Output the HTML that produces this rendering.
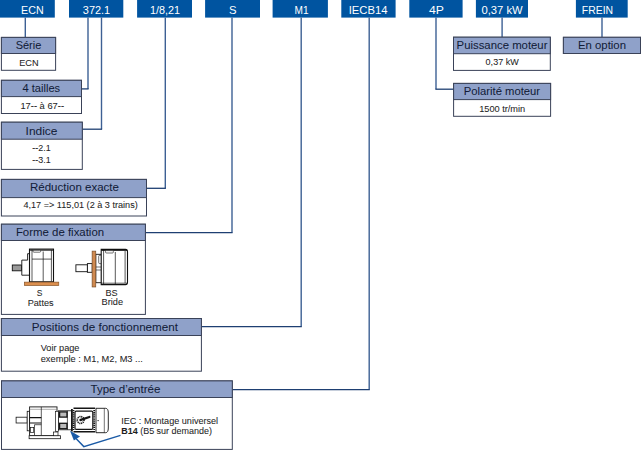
<!DOCTYPE html>
<html><head><meta charset="utf-8"><style>
html,body{margin:0;padding:0;background:#fff;width:641px;height:450px;overflow:hidden}
svg{display:block;font-family:"Liberation Sans",sans-serif}
</style></head><body>
<svg width="641" height="450" viewBox="0 0 641 450">
<rect width="641" height="450" fill="#fff"/>
<rect x="-10" y="0" width="64.80" height="17.6" fill="#0054a0"/>
<rect x="69" y="0" width="54.30" height="17.6" fill="#0054a0"/>
<rect x="137.1" y="0" width="54.90" height="17.6" fill="#0054a0"/>
<rect x="205.1" y="0" width="54.90" height="17.6" fill="#0054a0"/>
<rect x="272.6" y="0" width="55.30" height="17.6" fill="#0054a0"/>
<rect x="341.3" y="0" width="54.30" height="17.6" fill="#0054a0"/>
<rect x="409.3" y="0" width="53.30" height="17.6" fill="#0054a0"/>
<rect x="475.9" y="0" width="52.10" height="17.6" fill="#0054a0"/>
<rect x="575.9" y="0" width="51.80" height="17.6" fill="#0054a0"/>
<path d="M25.3 17.4 V37.4" fill="none" stroke="#3d6094" stroke-width="1.4"/>
<path d="M88.0 17.4 V88.9" fill="none" stroke="#3d6094" stroke-width="1.4"/>
<path d="M88.6 88.9 H81.5" fill="none" stroke="#1e3f72" stroke-width="1.3"/>
<path d="M101.5 17.4 V129.2" fill="none" stroke="#3d6094" stroke-width="1.4"/>
<path d="M102.1 129.2 H82.3" fill="none" stroke="#1e3f72" stroke-width="1.3"/>
<path d="M165.3 17.4 V188.3" fill="none" stroke="#3d6094" stroke-width="1.4"/>
<path d="M165.9 188.3 H146.5" fill="none" stroke="#1e3f72" stroke-width="1.3"/>
<path d="M232.0 17.4 V232.6" fill="none" stroke="#3d6094" stroke-width="1.4"/>
<path d="M232.6 232.6 H145.4" fill="none" stroke="#1e3f72" stroke-width="1.3"/>
<path d="M301.2 17.4 V326.6" fill="none" stroke="#3d6094" stroke-width="1.4"/>
<path d="M301.8 326.6 H201.4" fill="none" stroke="#1e3f72" stroke-width="1.3"/>
<path d="M369.2 17.4 V389.6" fill="none" stroke="#3d6094" stroke-width="1.4"/>
<path d="M369.8 389.6 H232.3" fill="none" stroke="#1e3f72" stroke-width="1.3"/>
<path d="M436.0 17.4 V89.2" fill="none" stroke="#3d6094" stroke-width="1.4"/>
<path d="M435.4 89.2 H453.5" fill="none" stroke="#1e3f72" stroke-width="1.3"/>
<path d="M502.1 17.4 V37.2" fill="none" stroke="#3d6094" stroke-width="1.4"/>
<path d="M602.0 17.4 V37.3" fill="none" stroke="#3d6094" stroke-width="1.4"/>
<rect x="1.4" y="37.4" width="54.20" height="32.90" fill="#fff" stroke="#3a4258" stroke-width="1"/>
<rect x="1.4" y="37.4" width="54.20" height="16.10" fill="#8fa1c9" stroke="#3a4258" stroke-width="1"/>
<rect x="1.4" y="80.3" width="80.10" height="33.20" fill="#fff" stroke="#3a4258" stroke-width="1"/>
<rect x="1.4" y="80.3" width="80.10" height="16.30" fill="#8fa1c9" stroke="#3a4258" stroke-width="1"/>
<rect x="1.4" y="122.2" width="80.90" height="47.20" fill="#fff" stroke="#3a4258" stroke-width="1"/>
<rect x="1.4" y="122.2" width="80.90" height="17.00" fill="#8fa1c9" stroke="#3a4258" stroke-width="1"/>
<rect x="1.4" y="179.4" width="145.10" height="36.60" fill="#fff" stroke="#3a4258" stroke-width="1"/>
<rect x="1.4" y="179.4" width="145.10" height="18.20" fill="#8fa1c9" stroke="#3a4258" stroke-width="1"/>
<rect x="1.4" y="224.2" width="144.00" height="90.20" fill="#fff" stroke="#3a4258" stroke-width="1"/>
<rect x="1.4" y="224.2" width="144.00" height="16.30" fill="#8fa1c9" stroke="#3a4258" stroke-width="1"/>
<rect x="1.4" y="318.5" width="200.00" height="52.70" fill="#fff" stroke="#3a4258" stroke-width="1"/>
<rect x="1.4" y="318.5" width="200.00" height="17.00" fill="#8fa1c9" stroke="#3a4258" stroke-width="1"/>
<rect x="1.5" y="380.9" width="230.80" height="68.50" fill="#fff" stroke="#3a4258" stroke-width="1"/>
<rect x="1.5" y="380.9" width="230.80" height="16.60" fill="#8fa1c9" stroke="#3a4258" stroke-width="1"/>
<rect x="453.5" y="37.2" width="96.80" height="33.20" fill="#fff" stroke="#3a4258" stroke-width="1"/>
<rect x="453.5" y="37.2" width="96.80" height="16.50" fill="#8fa1c9" stroke="#3a4258" stroke-width="1"/>
<rect x="453.6" y="83.4" width="97.00" height="32.90" fill="#fff" stroke="#3a4258" stroke-width="1"/>
<rect x="453.6" y="83.4" width="97.00" height="16.20" fill="#8fa1c9" stroke="#3a4258" stroke-width="1"/>
<rect x="563.4" y="37.3" width="77.10" height="16.20" fill="#fff" stroke="#3a4258" stroke-width="1"/>
<rect x="563.4" y="37.3" width="77.10" height="16.20" fill="#8fa1c9" stroke="#3a4258" stroke-width="1"/>
<text transform="translate(21.05,13.9) scale(0.9729,1)" font-size="11" fill="#fff" stroke="#fff" stroke-width="0">ECN</text>
<text transform="translate(82.80,13.9) scale(0.9960,1)" font-size="11" fill="#fff" stroke="#fff" stroke-width="0">372.1</text>
<text transform="translate(150.00,13.9) scale(0.9847,1)" font-size="11" fill="#fff" stroke="#fff" stroke-width="0">1/8,21</text>
<text transform="translate(229.10,13.9) scale(1.0286,1)" font-size="11" fill="#fff" stroke="#fff" stroke-width="0">S</text>
<text transform="translate(294.50,13.9) scale(0.9167,1)" font-size="11" fill="#fff" stroke="#fff" stroke-width="0">M1</text>
<text transform="translate(348.68,13.9) scale(1.0247,1)" font-size="11" fill="#fff" stroke="#fff" stroke-width="0">IECB14</text>
<text transform="translate(428.90,13.9) scale(1.1130,1)" font-size="11" fill="#fff" stroke="#fff" stroke-width="0">4P</text>
<text transform="translate(481.40,13.9) scale(1.0228,1)" font-size="11" fill="#fff" stroke="#fff" stroke-width="0">0,37 kW</text>
<text transform="translate(581.80,13.9) scale(0.9499,1)" font-size="11" fill="#fff" stroke="#fff" stroke-width="0">FREIN</text>
<text transform="translate(15.70,49.0) scale(0.9976,1)" font-size="11" fill="#121c38" stroke="#121c38" stroke-width="0.04">Série</text>
<text transform="translate(22.50,91.9) scale(1.0107,1)" font-size="11" fill="#121c38" stroke="#121c38" stroke-width="0.04">4 tailles</text>
<text transform="translate(25.62,134.7) scale(1.0837,1)" font-size="11" fill="#121c38" stroke="#121c38" stroke-width="0.04">Indice</text>
<text transform="translate(30.00,191.2) scale(1.0474,1)" font-size="11" fill="#121c38" stroke="#121c38" stroke-width="0.04">Réduction exacte</text>
<text transform="translate(15.90,235.9) scale(1.0393,1)" font-size="11" fill="#121c38" stroke="#121c38" stroke-width="0.04">Forme de fixation</text>
<text transform="translate(31.80,330.9) scale(1.0591,1)" font-size="11" fill="#121c38" stroke="#121c38" stroke-width="0.04">Positions de fonctionnement</text>
<text transform="translate(90.50,393.0) scale(1.0505,1)" font-size="11" fill="#121c38" stroke="#121c38" stroke-width="0.04">Type d’entrée</text>
<text transform="translate(456.60,48.9) scale(1.0330,1)" font-size="11" fill="#121c38" stroke="#121c38" stroke-width="0.04">Puissance moteur</text>
<text transform="translate(463.70,95.1) scale(1.0264,1)" font-size="11" fill="#121c38" stroke="#121c38" stroke-width="0.04">Polarité moteur</text>
<text transform="translate(578.00,48.9) scale(1.0331,1)" font-size="11" fill="#121c38" stroke="#121c38" stroke-width="0.04">En option</text>
<text transform="translate(19.20,66.1) scale(0.9966,1)" font-size="9.2" fill="#1e1e1e" stroke="#1e1e1e" stroke-width="0.06">ECN</text>
<text transform="translate(20.40,108.8) scale(1.0156,1)" font-size="9.2" fill="#1e1e1e" stroke="#1e1e1e" stroke-width="0.06">17-- à 67--</text>
<text transform="translate(32.30,151.2) scale(0.9691,1)" font-size="9.2" fill="#1e1e1e" stroke="#1e1e1e" stroke-width="0.06">--2.1</text>
<text transform="translate(32.30,163.0) scale(0.9691,1)" font-size="9.2" fill="#1e1e1e" stroke="#1e1e1e" stroke-width="0.06">--3.1</text>
<text transform="translate(23.40,208.3) scale(0.9913,1)" font-size="9.2" fill="#1e1e1e" stroke="#1e1e1e" stroke-width="0.06">4,17 =&gt; 115,01 (2 à 3 trains)</text>
<text transform="translate(36.80,296.0) scale(0.9167,1)" font-size="9.2" fill="#1e1e1e" stroke="#1e1e1e" stroke-width="0.06">S</text>
<text transform="translate(27.70,306.3) scale(0.9942,1)" font-size="9.2" fill="#1e1e1e" stroke="#1e1e1e" stroke-width="0.06">Pattes</text>
<text transform="translate(105.40,295.7) scale(0.9894,1)" font-size="9.2" fill="#1e1e1e" stroke="#1e1e1e" stroke-width="0.06">BS</text>
<text transform="translate(101.50,304.6) scale(1.0029,1)" font-size="9.2" fill="#1e1e1e" stroke="#1e1e1e" stroke-width="0.06">Bride</text>
<text transform="translate(40.70,351.2) scale(0.9997,1)" font-size="9.2" fill="#1e1e1e" stroke="#1e1e1e" stroke-width="0.06">Voir page</text>
<text transform="translate(40.70,361.8) scale(1.0105,1)" font-size="9.2" fill="#1e1e1e" stroke="#1e1e1e" stroke-width="0.06">exemple : M1, M2, M3 ...</text>
<text transform="translate(121.20,423.5) scale(0.9877,1)" font-size="9.2" fill="#1e1e1e" stroke="#1e1e1e" stroke-width="0.06">IEC : Montage universel</text>
<text transform="translate(485.60,65.3) scale(0.9815,1)" font-size="9.2" fill="#1e1e1e" stroke="#1e1e1e" stroke-width="0.06">0,37 kW</text>
<text transform="translate(479.20,112.1) scale(1.0011,1)" font-size="9.2" fill="#1e1e1e" stroke="#1e1e1e" stroke-width="0.06">1500 tr/min</text>
<text transform="translate(121.20,433.5) scale(0.9776,1)" font-size="9.2" fill="#1e1e1e" stroke="#1e1e1e" stroke-width="0.06"><tspan font-weight="bold">B14</tspan> (B5 sur demande)</text>
<g fill="none" stroke="#111" stroke-width="0.9">
<!-- S motor with feet -->
<rect x="12.3" y="265" width="9.2" height="5.8" fill="#9a9a9a"/>
<path d="M29.5 275.2 H21.8 V260.1 H27.6 V253.7 H29.5" fill="#fff"/>
<rect x="29.5" y="249.1" width="24" height="32.7" fill="#fff" stroke-width="1.1"/>
<path d="M32 249.6 V281.5 M43.2 251.5 V281.5 M51.4 250 V281.5 M32 259.1 H51.4" stroke-width="0.7"/>
<path d="M29.5 250.1 H53.5" stroke-width="1.1"/>
<rect x="33" y="250.3" width="7.7" height="1.9" rx="0.9" fill="#fff" stroke-width="0.6"/>
<rect x="24.3" y="282.1" width="34.5" height="3.5" fill="#dc8f4e" stroke="#7a4a20" stroke-width="0.6"/>
<!-- BS motor with flange -->
<rect x="75.9" y="264.8" width="11.5" height="6.9" fill="#fff"/>
<rect x="87.4" y="263.6" width="4.8" height="8.7" fill="#fff"/>
<rect x="95.8" y="254.3" width="5.8" height="28.4" fill="#fff"/>
<rect x="98.7" y="255.3" width="2.9" height="8.3" rx="1" fill="#fff" stroke-width="0.6"/>
<path d="M95.8 267 H101.6 M95.8 270 H101.6" stroke-width="0.6"/>
<path d="M101.2 249.4 H125.5 Q127.5 249.4 127.5 251.4 V282.6 Q127.5 284.6 125.5 284.6 H101.2 Z" fill="#fff" stroke-width="1.1"/>
<path d="M103.6 250 V284 M115.3 252 V284 M125.1 251 V283 M101.2 283.2 H127" stroke-width="0.7"/>
<path d="M101.2 250.3 H127" stroke-width="1.1"/>
<rect x="105.5" y="250.6" width="7.9" height="2.4" rx="1" fill="#fff" stroke-width="0.6"/>
<rect x="92.1" y="251.1" width="3.7" height="35.9" fill="#d08a50" stroke="#6a4220" stroke-width="0.6"/>
</g>
<!-- Gearmotor -->
<g fill="none" stroke="#151515" stroke-width="0.8">
<rect x="16.1" y="417.2" width="11.1" height="5.8" fill="#fff"/>
<rect x="27.2" y="411.3" width="2.4" height="19.5" fill="#fff"/>
<rect x="29.6" y="406.9" width="27.4" height="28.8" fill="#fff" stroke-width="0.9"/>
<path d="M29.6 409.3 H57" stroke-width="0.6" stroke="#777"/>
<path d="M41.3 406.9 V435.7" stroke-width="0.7"/>
<path d="M29.6 417.6 H41.3 M29.6 423 H41.3" stroke-width="1.1"/>
<path d="M34.5 435.7 V424.7 H41.3" stroke-width="0.7"/>
<rect x="29.1" y="435.7" width="31.3" height="3" fill="#fff"/>
<rect x="30.4" y="427.4" width="3.3" height="5" fill="#fff" stroke-width="0.7"/>
<rect x="53.5" y="432" width="4.5" height="3.7" fill="#fff" stroke-width="0.7"/>
<rect x="55.5" y="411.3" width="2.9" height="20" fill="#fff" stroke-width="0.7"/>
<rect x="58.4" y="410.8" width="13" height="19" fill="#fff" stroke-width="0.8"/>
<rect x="59.6" y="411.9" width="7.4" height="5.2" fill="#bbb" stroke-width="1.3"/>
<rect x="59.6" y="423.3" width="7.4" height="5.4" fill="#bbb" stroke-width="1.3"/>
<path d="M67.4 410.8 V429.8" stroke-width="0.7"/>
<path d="M71.9 409 V431.4" stroke-width="1.8"/>
<path d="M73.5 408.2 H95.2 M73.5 431.8 H95.2" stroke-width="1.6"/>
<path d="M73.5 410 V430 M94.2 410 V430" stroke-width="1.8" stroke-dasharray="1.3 0.8"/>
<rect x="75" y="411.2" width="17.8" height="18.2" rx="1.2" fill="#fff" stroke-width="1.2"/>
<circle cx="80.6" cy="420" r="3.4" fill="#fff" stroke-width="1.6" stroke-dasharray="1.1 0.7"/>
<circle cx="80.6" cy="420" r="1.3" fill="#151515" stroke="none"/>
<path d="M81.5 419.6 L89.4 417" stroke-width="2.2" stroke-linecap="round"/>
<path d="M96 408.3 H105.5 Q108.3 408.3 108.3 413 V428 Q108.3 432.7 105.5 432.7 H96 Z" fill="#fff" stroke-width="0.9"/>
<path d="M104.3 408.5 V432.5" stroke-width="0.6"/>
<circle cx="98.1" cy="420.6" r="0.7" fill="#151515" stroke="none"/>
</g>
<g fill="none" stroke="#1a5aa6" stroke-width="1.4">
<path d="M76 438.5 L83.8 446.6 L120.5 435.3"/>
</g>
<path d="M70 430.8 L80 436.4 L73.9 440.6 Z" fill="#1a5aa6"/>

</svg>
</body></html>
